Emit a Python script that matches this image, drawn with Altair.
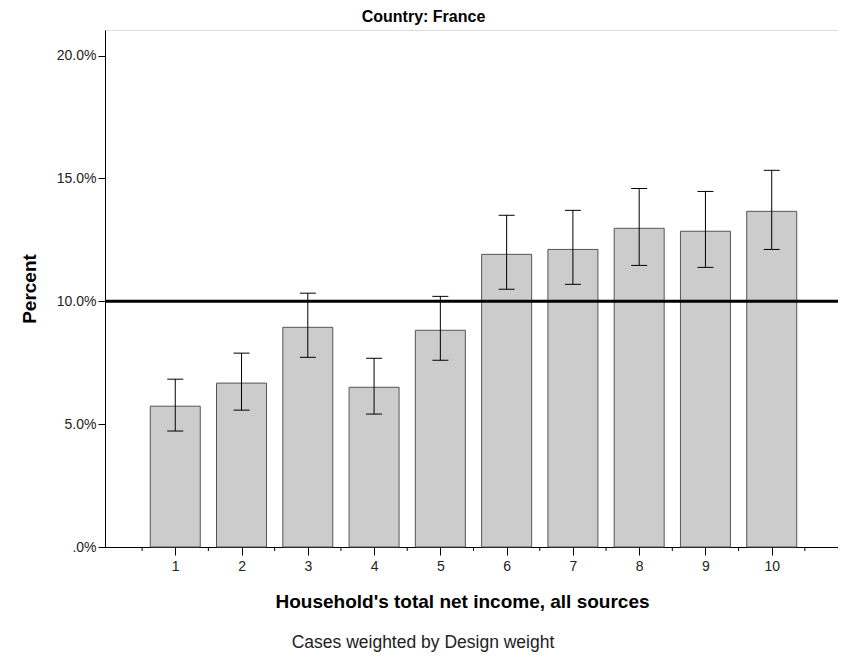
import altair as alt
import pandas as pd

categories = [1, 2, 3, 4, 5, 6, 7, 8, 9, 10]
percent = [5.73, 6.67, 8.94, 6.50, 8.82, 11.91, 12.11, 12.97, 12.85, 13.66]
ci_low = [4.72, 5.57, 7.72, 5.41, 7.60, 10.49, 10.69, 11.46, 11.38, 12.11]
ci_high = [6.83, 7.89, 10.33, 7.68, 10.20, 13.50, 13.70, 14.59, 14.47, 15.33]
ref_value = 10
y_ticks = [0, 5, 10, 15, 20]
minor_ticks = [0.5, 1.5, 2.5, 3.5, 4.5, 5.5, 6.5, 7.5, 8.5, 9.5, 10.5]

df = pd.DataFrame({"cat": categories, "pct": percent, "lo": ci_low, "hi": ci_high})

FONT = "Liberation Sans"
W, H = 733, 517

xscale = alt.Scale(domain=[-0.06, 11.0], nice=False, zero=False, padding=0)
yscale = alt.Scale(domain=[0, 21.04], nice=False, padding=0)

x_axis = alt.Axis(
    values=categories,
    format="d",
    labelOverlap=False,
    tickSize=8,
    title="Household's total net income, all sources",
    titleFontSize=19, titleFontWeight="bold", titleFont=FONT, titleColor="#000",
    titleX=357, titleY=45,
    labelFont=FONT, labelFontSize=14, labelColor="#222", labelPadding=4,
    domainColor="#000", tickColor="#000", grid=False, labelFlush=False,
)
y_axis = alt.Axis(
    values=y_ticks,
    labelExpr="datum.value == 0 ? '.0%' : format(datum.value, '.1f') + '%'",
    labelOverlap=False,
    tickSize=7,
    title="Percent",
    titleFontSize=19, titleFontWeight="bold", titleFont=FONT, titleColor="#000",
    titlePadding=17,
    labelFont=FONT, labelFontSize=14, labelColor="#222", labelPadding=2,
    domainColor="#000", tickColor="#000", grid=False,
)

base = alt.Chart(df)

bars = base.mark_bar(size=50, fill="#cccccc", stroke="#555555", strokeWidth=1).encode(
    x=alt.X("cat:Q", scale=xscale, axis=x_axis),
    y=alt.Y("pct:Q", scale=yscale, axis=y_axis),
)
err = base.mark_rule(color="#000", strokeWidth=1).encode(
    x="cat:Q", y="lo:Q", y2="hi:Q"
)
cap_lo = base.mark_tick(orient="horizontal", size=16, thickness=1, color="#000", opacity=1).encode(
    x="cat:Q", y="lo:Q"
)
cap_hi = base.mark_tick(orient="horizontal", size=16, thickness=1, color="#000", opacity=1).encode(
    x="cat:Q", y="hi:Q"
)
minor = alt.Chart(pd.DataFrame({"m": minor_ticks})).mark_rule(color="#000", strokeWidth=1).encode(
    x="m:Q", y=alt.value(H), y2=alt.value(H + 4)
)
ref = alt.Chart(pd.DataFrame({"v": [ref_value]})).mark_rule(color="#000", strokeWidth=3).encode(
    y=alt.Y("v:Q")
)
footer = alt.Chart(pd.DataFrame({"t": ["Cases weighted by Design weight"]})).mark_text(
    font=FONT, fontSize=17.5, color="#222", align="center", baseline="middle"
).encode(text="t:N", x=alt.value(318), y=alt.value(613))

chart = alt.layer(bars, err, cap_lo, cap_hi, minor, ref, footer).properties(
    width=W, height=H,
    title=alt.TitleParams("Country: France", font=FONT, fontSize=16, fontWeight="bold",
                          color="#000", anchor="middle", dx=-48, offset=5),
    autosize=alt.AutoSizeParams(type="none"),
    padding={"left": 97, "top": 22, "right": 0, "bottom": 105},
).configure_view(stroke="#808080", strokeWidth=1.5).configure(background="white")

chart.save("out.html", embed_options={"renderer": "svg", "actions": False})
